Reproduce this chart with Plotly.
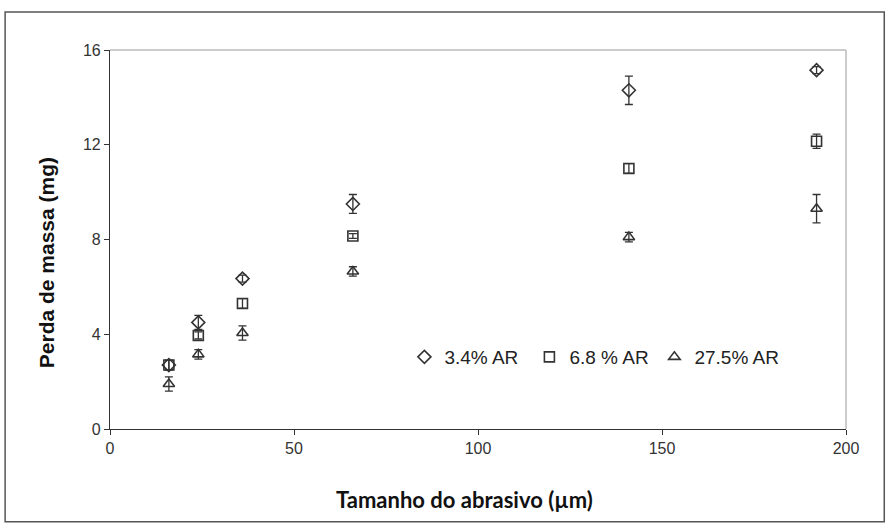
import plotly.graph_objects as go

size_um = [16, 24, 36, 66, 141, 192]

loss_34 = [2.7, 4.5, 6.35, 9.5, 14.3, 15.15]
err_34 = [0.2, 0.3, 0.15, 0.4, 0.6, 0.15]

loss_68 = [2.7, 3.95, 5.3, 8.15, 11.0, 12.15]
err_68 = [0.2, 0.15, 0.2, 0.1, 0.2, 0.3]

loss_275 = [1.9, 3.15, 4.05, 6.65, 8.1, 9.3]
err_275 = [0.3, 0.2, 0.3, 0.2, 0.2, 0.6]

series_names = ["3.4% AR", "6.8 % AR", "27.5% AR"]

x_ticks = [0, 50, 100, 150, 200]
y_ticks = [0, 4, 8, 12, 16]

x_title = "Tamanho do abrasivo (µm)"
y_title = "Perda de massa (mg)"

col = "#333333"
fig = go.Figure()
specs = [
    (loss_34, err_34, "diamond-open", 10),
    (loss_68, err_68, "square-open", 10),
    (loss_275, err_275, "triangle-up-open", 10),
]
for name, (ys, es, sym, sz) in zip(series_names, specs):
    fig.add_trace(go.Scatter(
        x=size_um, y=ys, mode="markers", name=name,
        marker=dict(symbol=sym, size=sz, color=col, line=dict(width=1.6, color=col)),
        error_y=dict(type="data", array=es, visible=True, color=col, thickness=1.3, width=4),
    ))

fig.update_layout(
    width=886, height=525,
    margin=dict(l=110, r=40, t=50, b=96),
    paper_bgcolor="white", plot_bgcolor="white",
    font=dict(family="Liberation Sans, Arial, sans-serif", color="#222222"),
    showlegend=True,
    legend=dict(orientation="h", x=0.4, y=0.19, xanchor="left", yanchor="middle",
                font=dict(size=19, color="#222222"), bgcolor="rgba(0,0,0,0)",
                itemwidth=30, tracegroupgap=0, entrywidth=80, entrywidthmode="pixels"),
    xaxis=dict(range=[0, 200], tickvals=x_ticks, showgrid=False, zeroline=False,
               showline=True, linecolor="#333333", linewidth=1.2,
               ticks="outside", ticklen=5, tickcolor="#333333",
               tickfont=dict(size=16, color="#333333")),
    yaxis=dict(range=[0, 16], tickvals=y_ticks, showgrid=False, zeroline=False,
               showline=True, linecolor="#333333", linewidth=1.2,
               ticks="outside", ticklen=5, tickcolor="#333333",
               tickfont=dict(size=16, color="#333333")),
    annotations=[
        dict(text="<b>" + x_title + "</b>", xref="paper", yref="paper", x=0.481, y=-0.187,
             xanchor="center", yanchor="middle", showarrow=False,
             font=dict(family="Lato, Open Sans, sans-serif", size=22, color="#111111")),
        dict(text="<b>" + y_title + "</b>", xref="paper", yref="paper", x=-0.087, y=0.44,
             xanchor="center", yanchor="middle", showarrow=False, textangle=-90,
             font=dict(size=21, color="#111111")),
    ],
    shapes=[
        # light top/right plot frame
        dict(type="line", xref="paper", yref="paper", x0=0, y0=1, x1=1, y1=1,
             line=dict(color="#bbbbbb", width=1.5)),
        dict(type="line", xref="paper", yref="paper", x0=1, y0=0, x1=1, y1=1,
             line=dict(color="#bbbbbb", width=1.5)),
        # outer border
        dict(type="rect", xref="paper", yref="paper", x0=-0.1425, y0=-0.245, x1=1.052, y1=1.1,
             line=dict(color="#555555", width=1.5)),
    ],
)

fig.write_html("out.html", config={"displayModeBar": False},
               post_script="document.body.style.margin='0';")
